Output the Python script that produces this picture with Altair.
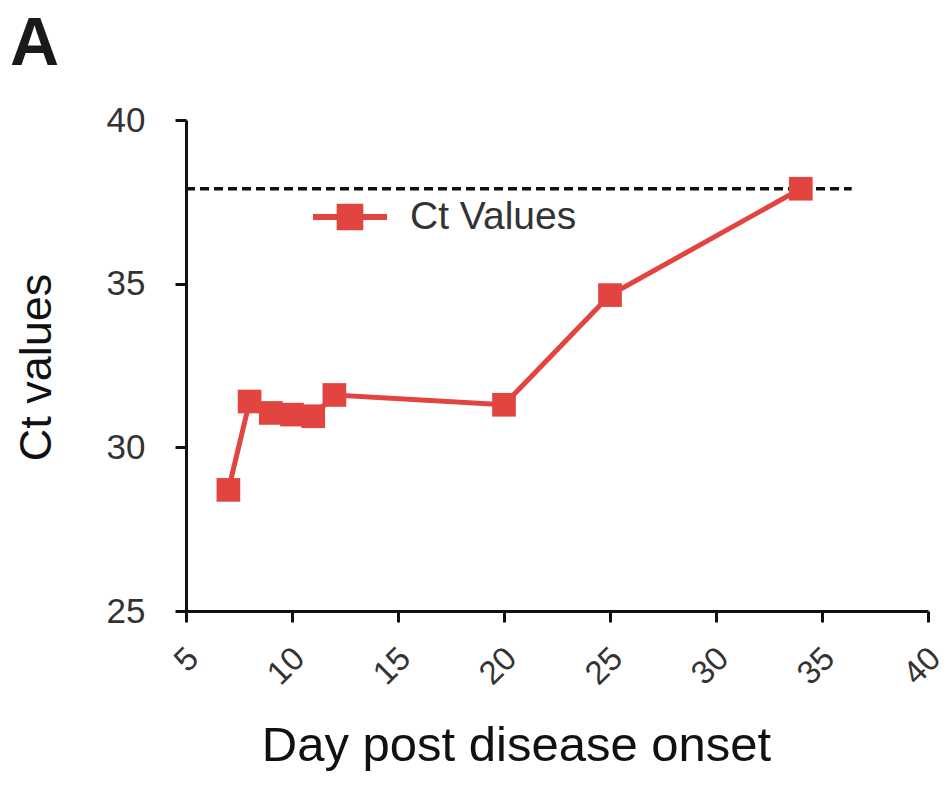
import altair as alt
import pandas as pd

# ---- data ----
days = [7, 8, 9, 10, 11, 12, 20, 25, 34]
ct_values = [28.7, 31.4, 31.05, 31.0, 30.95, 31.6, 31.3, 34.65, 37.9]
series_name = "Ct Values"
cutoff_days = [5, 36.4]
cutoff_ct = [37.9, 37.9]
x_ticks = [5, 10, 15, 20, 25, 30, 35, 40]
y_ticks = [25, 30, 35, 40]

df = pd.DataFrame({"day": days, "ct": ct_values, "series": [series_name] * len(days)})
cut = pd.DataFrame({"day": cutoff_days, "ct": cutoff_ct})

RED = "#E2443F"
FONT = "Liberation Sans"

xscale = alt.Scale(domain=[5, 40], nice=False, zero=False)
yscale = alt.Scale(domain=[25, 40], nice=False, zero=False)

xaxis = alt.Axis(
    values=x_ticks, title="Day post disease onset",
    labelAngle=-45, labelAlign="right", labelBaseline="middle",
    labelPadding=31, labelOffset=7, labelFontSize=33, labelColor="#333333", labelFont=FONT,
    labelOverlap=False, labelBound=False,
    titleFontSize=49, titleFont=FONT, titleColor="#111111", titleFontWeight="normal",
    titleX=330, titleY=134, titleBaseline="middle", titleAlign="center",
    domainColor="#111111", domainWidth=3, tickColor="#111111", tickWidth=3, tickSize=11,
    grid=False,
)
yaxis = alt.Axis(
    values=y_ticks, title="Ct values",
    labelFontSize=35, labelColor="#333333", labelFont=FONT, labelPadding=30,
    titleFontSize=45, titleFont=FONT, titleColor="#111111", titleFontWeight="normal",
    titleAngle=-90, titleX=-150, titleY=247, titleAlign="center", titleBaseline="middle",
    domainColor="#111111", domainWidth=3, tickColor="#111111", tickWidth=3, tickSize=11,
    grid=False,
)

legend_symbol = ("M-1,-0.08H1V0.08H-1Z "
                 "M-0.36,-0.36H0.36V0.36H-0.36Z")

color = alt.Color(
    "series:N",
    scale=alt.Scale(domain=[series_name], range=[RED]),
    legend=alt.Legend(
        title=None, orient="none", legendX=127, legendY=60,
        symbolType=legend_symbol, symbolSize=5476, symbolStrokeWidth=0,
        symbolFillColor=RED, symbolOpacity=1,
        labelFontSize=39, labelFont=FONT, labelColor="#333333", labelOffset=23,
        labelLimit=400,
    ),
)

base = alt.Chart(df)
line = base.mark_line(strokeWidth=5, color=RED).encode(
    x=alt.X("day:Q", scale=xscale, axis=xaxis),
    y=alt.Y("ct:Q", scale=yscale, axis=yaxis),
)
points = base.mark_point(shape="square", filled=True, size=560, opacity=1).encode(
    x=alt.X("day:Q", scale=xscale),
    y=alt.Y("ct:Q", scale=yscale),
    color=color,
)
cutoff = alt.Chart(cut).mark_line(color="#111111", strokeWidth=3.5, strokeDash=[9, 5]).encode(
    x=alt.X("day:Q", scale=xscale),
    y=alt.Y("ct:Q", scale=yscale),
)

chart = alt.layer(cutoff, line, points).properties(
    width=742, height=491,
    title=alt.TitleParams("A", anchor="start", frame="group", fontSize=68, fontWeight="bold",
                          font=FONT, color="#1a1a1a", dx=-176, offset=24),
    autosize=alt.AutoSizeParams(type="none"),
    padding={"left": 186, "top": 120, "right": 20, "bottom": 187},
    background="white",
).configure_view(stroke=None)

chart.save("out.html", embed_options={"renderer": "svg", "actions": False})
